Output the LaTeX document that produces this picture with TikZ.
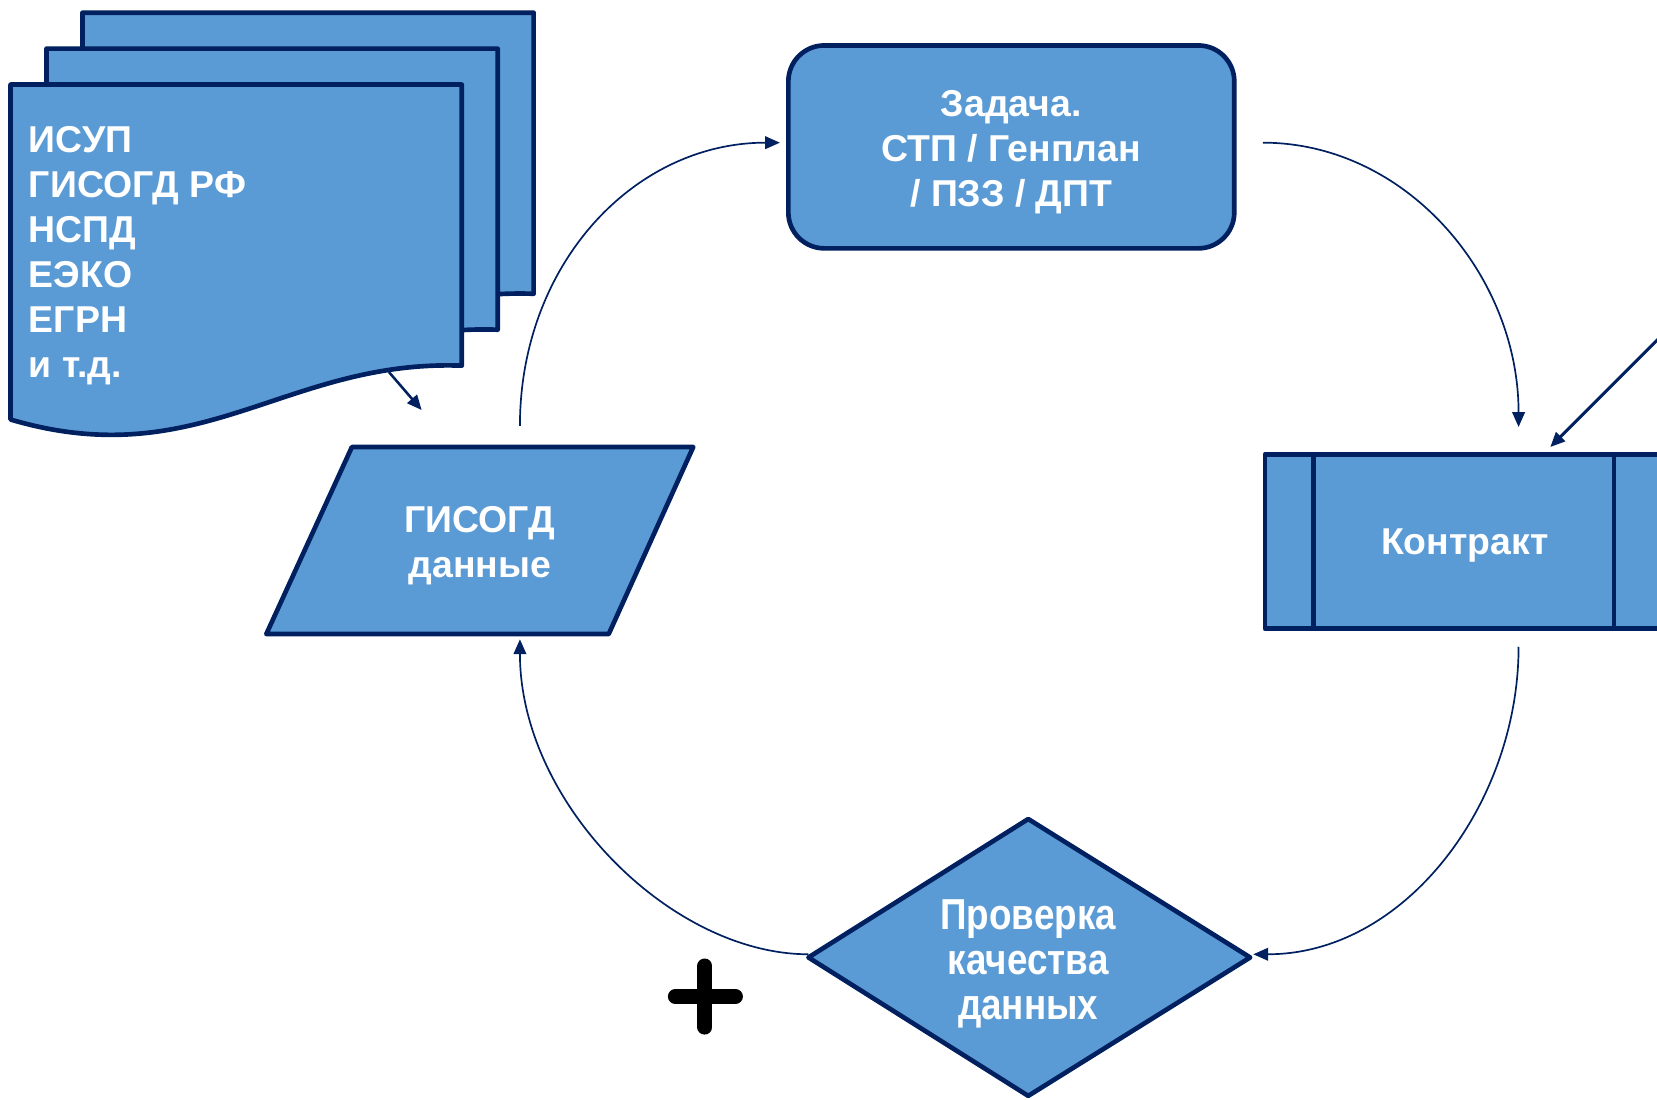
\documentclass[tikz,border=0pt]{standalone}
\usepackage{fontspec}
\setmainfont{Liberation Sans}
\newfontfamily\narrowfont{Liberation Sans}[FakeStretch=0.85]
\usetikzlibrary{arrows.meta}
\definecolor{fillblue}{HTML}{5B9BD5}
\definecolor{navy}{HTML}{002060}
\begin{document}
\begin{tikzpicture}[x=0.5pt,y=-0.5pt,
  shapebox/.style={fill=fillblue,draw=navy,line width=2.2pt,line join=round},
  lbl/.style={text=white,font=\fontsize{17.7}{21.3}\selectfont\bfseries,align=center,inner sep=0pt},
  nlbl/.style={text=white,font=\narrowfont\fontsize{20.5}{21.3}\selectfont\bfseries,align=center,inner sep=0pt},
  conn/.style={draw=navy,line width=0.8pt,-{Triangle[length=7pt,width=6pt]}},
]
\useasboundingbox (0,0) rectangle (1568,1040);
\clip (0,0) rectangle (1568,1040);

% stacked documents
\foreach \s in {68,34,0}{
  \path[shapebox,shift={(\s,-\s)}] (10,80) -- (437,80) -- (437,346)
     .. controls (270,340) and (190,450) .. (10,397) -- cycle;
}
\node[lbl,anchor=north west,align=left] (src) at (27,119.5)
  {ИСУП\\ГИСОГД РФ\\НСПД\\ЕЭКО\\ЕГРН\\и т.д.};

% task box
\node[shapebox,rounded corners=17pt,minimum width=211pt,minimum height=96pt] (task) at (957,139) {};
\node[lbl,anchor=north] (tasktxt) at (957,85) {Задача.\\СТП / Генплан\\/ ПЗЗ / ДПТ};

% data parallelogram
\path[shapebox] (333,423) coordinate (pTL) -- (656,423) coordinate (pTR)
  -- (576,600) coordinate (pBR) -- (252,600) coordinate (pBL) -- cycle;
\node[lbl,anchor=north] (gisdata) at (454,478.5) {ГИСОГД\\данные};

% contract box
\node[shapebox,minimum width=189pt,minimum height=82.5pt] (contract) at (1386,512.5) {};
\draw[navy,line width=2.2pt] ([xshift=24pt]contract.north west) -- ([xshift=24pt]contract.south west);
\draw[navy,line width=2.2pt] ([xshift=-25pt]contract.north east) -- ([xshift=-25pt]contract.south east);
\node[lbl,anchor=base] (contracttxt) at (1386,525) {Контракт};

% decision diamond
\path[shapebox] (973,775) coordinate (dT) -- (1183,906) coordinate (dR)
  -- (973,1037) coordinate (dB) -- (765,906) coordinate (dL) -- cycle;
\node[nlbl,anchor=north] (checktxt) at (973,851) {Проверка\\качества\\данных};

% plus sign
\draw[black,line width=7pt,line cap=round] (639,943) -- (696,943);
\draw[black,line width=7pt,line cap=round] (667,914) -- (667,972);

% connector end points
\coordinate (c1s) at (492,403);
\coordinate (c1e) at (738,135);
\coordinate (c2s) at (1195,135);
\coordinate (c2e) at (1437,404);
\coordinate (c3s) at (1437,612);
\coordinate (c3e) at (1186,903);
\coordinate (c4s) at (765,903);
\coordinate (c4e) at (492,605);
\coordinate (c5s) at (368,352);
\coordinate (c5e) at (399,388);
\coordinate (c6s) at (1580,310);
\coordinate (c6e) at (1467,423);

\draw[conn] (c1s) .. controls (492,250) and (600,135) .. (c1e);
\draw[conn] (c2s) .. controls (1330,135) and (1437,260) .. (c2e);
\draw[conn] (c3s) .. controls (1437,760) and (1330,903) .. (c3e);
\draw[conn] (c4s) .. controls (635,903) and (492,760) .. (c4e);
\draw[conn,line width=1.2pt] (c5s) -- (c5e);
\draw[conn,line width=1.4pt] (c6s) -- (c6e);
\end{tikzpicture}
\end{document}
